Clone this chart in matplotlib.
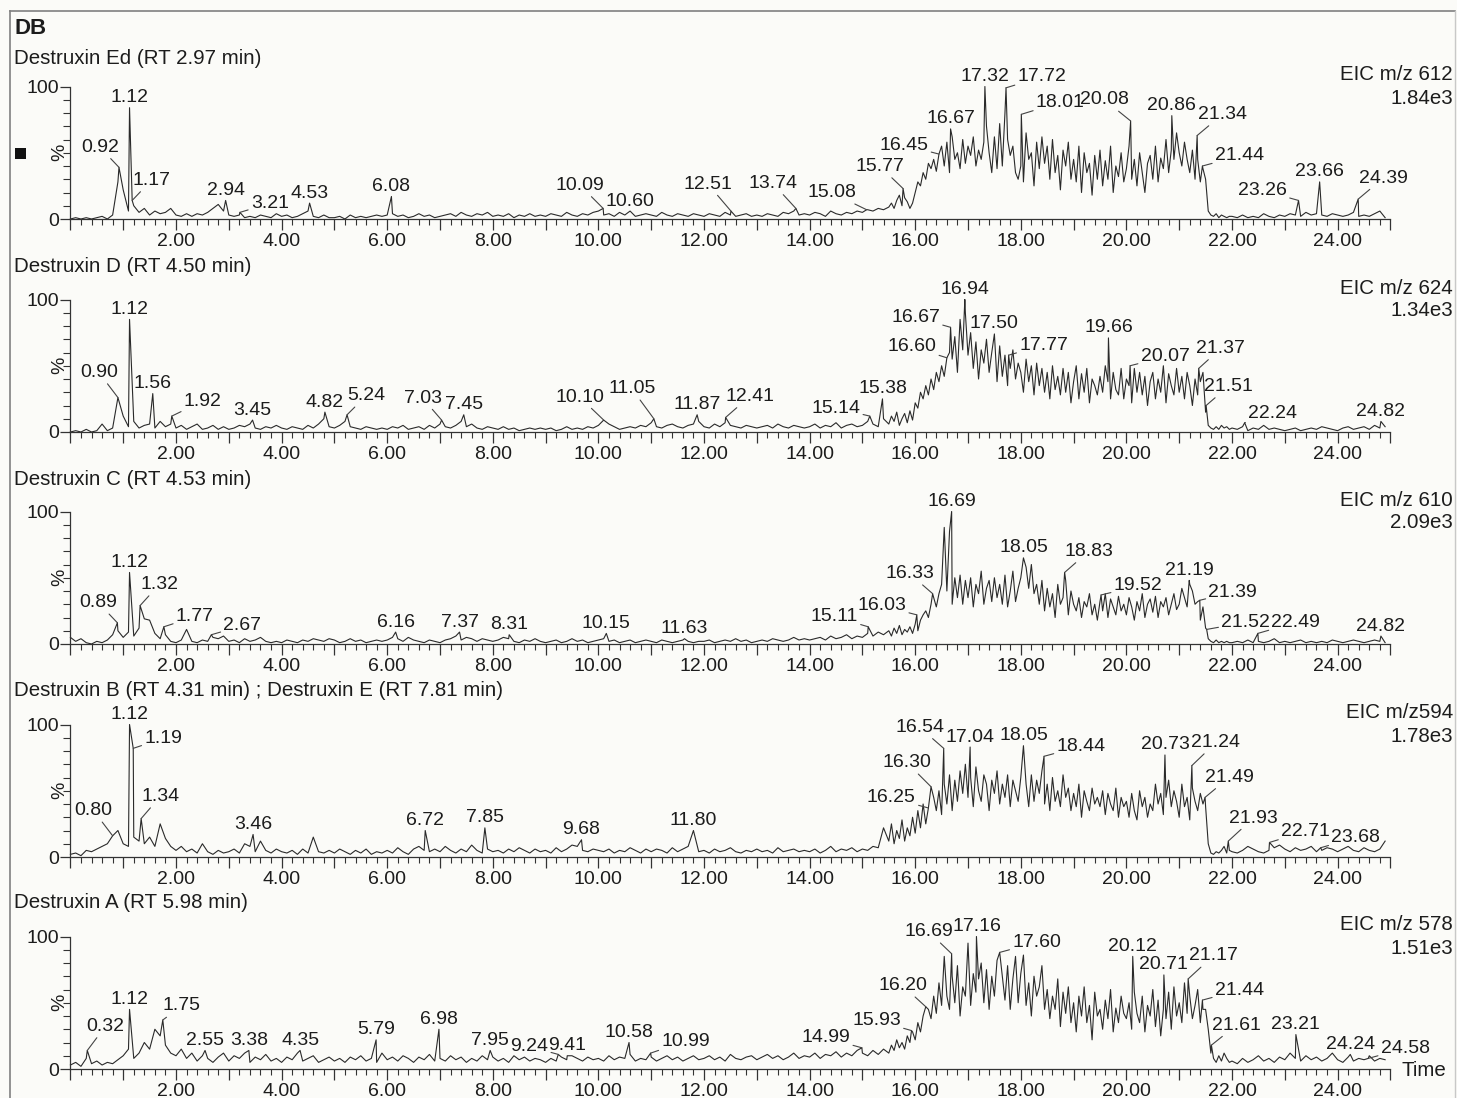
import numpy as np
import matplotlib.pyplot as plt
from matplotlib.ticker import MultipleLocator, FuncFormatter
from matplotlib.lines import Line2D
from matplotlib.patches import Rectangle

plt.rcParams['font.family'] = ['Liberation Sans', 'DejaVu Sans']

W, H = 1457, 1098
bg = '#fbfbf8'
ink = '#1c1c1c'

titles = ['Destruxin Ed (RT 2.97 min)', 'Destruxin D (RT 4.50 min)', 'Destruxin C (RT 4.53 min)',
          'Destruxin B (RT 4.31 min) ; Destruxin E (RT 7.81 min)', 'Destruxin A (RT 5.98 min)']
eic = ['EIC m/z 612', 'EIC m/z 624', 'EIC m/z 610', 'EIC m/z594', 'EIC m/z 578']
scale = ['1.84e3', '1.34e3', '2.09e3', '1.78e3', '1.51e3']

# intensities (%): base = 0.0-15.4 min every 0.1, busy = 15.50-21.95 every 0.05, tail = 22.0-24.9 every 0.1
ed_base = [0, 1, 0, 1, 0, 1, 2, 0, 3, 28, 22, 6, 10, 5, 8, 3, 6, 4, 5, 8,
           3, 2, 4, 2, 4, 3, 5, 8, 11, 6, 3, 2, 3, 1, 2, 1, 3, 2, 1, 4,
           2, 3, 1, 2, 4, 6, 2, 1, 3, 1, 1, 2, 0, 3, 1, 2, 1, 2, 3, 2,
           3, 4, 2, 3, 1, 2, 4, 2, 3, 1, 2, 3, 4, 2, 5, 3, 2, 4, 3, 5,
           2, 3, 2, 4, 1, 3, 2, 4, 2, 3, 2, 4, 3, 2, 5, 3, 2, 4, 3, 5,
           6, 3, 4, 2, 5, 3, 4, 2, 3, 4, 3, 2, 5, 3, 2, 4, 3, 2, 4, 3,
           2, 4, 3, 2, 5, 3, 2, 3, 4, 2, 3, 2, 4, 3, 2, 5, 4, 6, 3, 4,
           3, 5, 4, 2, 6, 4, 3, 5, 4, 6, 5, 7, 6, 8, 7]
ed_busy = [9, 12, 8, 14, 18, 10, 16, 13, 8, 12, 20, 28, 25, 35, 30, 42, 38, 45, 36, 44,
           55, 40, 58, 35, 62, 45, 50, 38, 60, 42, 55, 48, 62, 40, 52, 45, 58, 70, 50, 35,
           62, 38, 72, 40, 80, 60, 48, 55, 35, 30, 40, 28, 65, 45, 50, 25, 58, 38, 62, 42,
           55, 30, 60, 35, 48, 22, 52, 40, 58, 30, 45, 28, 55, 20, 50, 35, 42, 18, 48, 30,
           52, 25, 44, 30, 55, 20, 40, 32, 50, 28, 38, 55, 30, 45, 25, 50, 35, 20, 42, 48,
           30, 55, 28, 46, 38, 60, 35, 52, 45, 65, 50, 40, 58, 45, 35, 52, 30, 45, 28, 38,
           30, 6, 3, 2, 4, 1, 3, 2, 1, 2]
ed_tail = [2, 1, 3, 1, 2, 1, 4, 2, 1, 3, 2, 4, 3, 2, 5, 3, 4, 3, 2, 4, 3, 2, 3, 5, 2, 3, 2, 4, 6, 1]
ed_rt = [0.92, 1.12, 1.17, 2.94, 3.21, 4.53, 6.08, 10.09, 10.60, 12.51, 13.74, 15.08, 15.77,
         16.45, 16.67, 17.32, 17.72, 18.01, 20.08, 20.86, 21.34, 21.44, 23.26, 23.66, 24.39]
ed_h = [39, 84, 14, 14, 5, 12, 17, 8, 6, 6, 8, 7, 23, 49, 68, 100, 99, 79, 74, 78, 63, 40, 14, 28, 15]

d_base = [0, 1, 0, 2, 0, 1, 6, 1, 3, 20, 12, 4, 8, 3, 5, 6, 3, 8, 4, 6,
          3, 5, 2, 4, 6, 2, 3, 5, 2, 4, 2, 3, 5, 4, 6, 3, 2, 4, 3, 5,
          3, 2, 4, 3, 2, 5, 3, 6, 10, 4, 3, 5, 8, 4, 3, 2, 4, 3, 2, 3,
          2, 4, 3, 5, 2, 3, 4, 2, 5, 3, 6, 4, 3, 5, 8, 4, 6, 3, 2, 4,
          3, 2, 4, 2, 3, 1, 2, 3, 2, 3, 2, 3, 1, 2, 4, 2, 3, 2, 4, 3,
          5, 3, 6, 4, 2, 3, 4, 3, 5, 4, 7, 4, 3, 5, 6, 4, 3, 5, 6, 8,
          4, 3, 6, 4, 7, 5, 4, 3, 5, 4, 3, 4, 5, 3, 6, 4, 3, 5, 4, 3,
          4, 6, 3, 5, 4, 7, 3, 5, 6, 4, 5, 8, 6, 4, 10]
d_busy = [6, 12, 8, 15, 5, 10, 14, 7, 16, 9, 22, 18, 30, 25, 35, 28, 40, 32, 45, 38,
          50, 42, 48, 60, 55, 72, 45, 85, 62, 90, 58, 75, 48, 68, 40, 62, 52, 70, 45, 60,
          55, 38, 65, 42, 58, 35, 48, 62, 40, 52, 45, 30, 55, 38, 50, 28, 52, 35, 48, 30,
          45, 25, 50, 32, 42, 28, 48, 30, 45, 22, 38, 50, 25, 44, 30, 48, 22, 40, 35, 28,
          42, 30, 50, 38, 25, 45, 32, 28, 48, 25, 40, 35, 22, 48, 30, 45, 28, 42, 20, 38,
          45, 25, 40, 30, 50, 22, 44, 35, 28, 48, 30, 42, 25, 45, 35, 20, 40, 28, 38, 45,
          15, 5, 3, 2, 4, 2, 5, 3, 4, 2]
d_tail = [3, 2, 4, 1, 3, 2, 5, 2, 3, 2, 1, 2, 3, 1, 2, 3, 2, 4, 3, 2, 1, 3, 4, 2, 3, 4, 2, 5, 3, 4]
d_rt = [0.90, 1.12, 1.56, 1.92, 3.45, 4.82, 5.24, 7.03, 7.45, 10.10, 11.05, 11.87, 12.41, 15.14,
        15.38, 16.60, 16.67, 16.94, 17.50, 17.77, 19.66, 20.07, 21.37, 21.51, 22.24, 24.82]
d_h = [26, 85, 29, 12, 9, 15, 13, 9, 13, 9, 10, 13, 11, 12, 25, 56, 79, 100, 74, 58, 71, 50, 48, 20, 7, 8]

c_base = [5, 2, 4, 1, 0, 2, 1, 3, 7, 10, 5, 9, 6, 12, 19, 18, 8, 4, 7, 2,
          1, 3, 11, 2, 1, 3, 2, 5, 4, 6, 2, 3, 1, 4, 2, 3, 5, 2, 1, 2,
          1, 3, 2, 1, 3, 2, 4, 3, 2, 4, 3, 1, 2, 4, 2, 3, 1, 2, 3, 2,
          3, 5, 4, 2, 5, 3, 2, 1, 3, 2, 1, 3, 4, 6, 3, 5, 4, 2, 4, 3,
          2, 3, 5, 4, 2, 1, 3, 2, 4, 2, 1, 2, 3, 1, 2, 4, 2, 3, 1, 2,
          3, 4, 2, 3, 1, 2, 3, 1, 2, 3, 2, 1, 3, 2, 1, 2, 3, 2, 1, 2,
          2, 3, 1, 2, 3, 2, 4, 2, 3, 1, 2, 3, 2, 4, 3, 2, 3, 5, 3, 4,
          3, 4, 5, 3, 6, 4, 5, 7, 4, 6, 5, 8, 6, 9, 7]
c_busy = [10, 6, 12, 8, 14, 7, 11, 9, 13, 8, 15, 10, 18, 22, 25, 20, 30, 35, 28, 38,
          45, 88, 40, 85, 30, 50, 35, 52, 30, 48, 35, 50, 28, 45, 38, 55, 30, 42, 48, 32,
          50, 35, 45, 30, 52, 28, 40, 55, 32, 42, 50, 35, 58, 42, 60, 38, 45, 30, 48, 25,
          42, 28, 38, 20, 45, 30, 35, 48, 22, 40, 30, 25, 35, 20, 32, 28, 38, 22, 30, 18,
          32, 25, 38, 20, 34, 28, 22, 36, 25, 30, 22, 35, 28, 18, 32, 25, 38, 20, 30, 34,
          24, 36, 20, 32, 28, 35, 22, 30, 38, 26, 30, 42, 35, 28, 45, 40, 30, 32, 18, 28,
          12, 4, 2, 1, 3, 1, 2, 1, 2, 1]
c_tail = [1, 2, 1, 3, 1, 2, 1, 2, 4, 1, 2, 1, 2, 3, 1, 2, 1, 2, 1, 3, 2, 1, 2, 3, 2, 1, 2, 3, 2, 1]
c_rt = [0.89, 1.12, 1.32, 1.77, 2.67, 6.16, 7.37, 8.31, 10.15, 11.63, 15.11, 16.03, 16.33, 16.69,
        18.05, 18.83, 19.52, 21.19, 21.39, 21.52, 22.49, 24.82]
c_h = [16, 54, 29, 13, 7, 9, 9, 7, 8, 4, 13, 22, 38, 100, 65, 54, 37, 48, 33, 11, 8, 6]

b_base = [2, 3, 1, 5, 4, 6, 8, 10, 12, 20, 10, 8, 15, 12, 10, 15, 8, 25, 14, 8,
          5, 8, 4, 6, 3, 10, 4, 2, 5, 3, 4, 6, 3, 10, 8, 4, 12, 5, 3, 6,
          4, 3, 5, 2, 6, 3, 15, 4, 3, 5, 3, 6, 4, 2, 5, 3, 6, 2, 4, 3,
          5, 3, 7, 4, 2, 6, 8, 5, 4, 6, 4, 8, 5, 3, 6, 4, 9, 5, 3, 6,
          4, 5, 3, 6, 4, 7, 5, 3, 6, 4, 5, 3, 7, 4, 6, 9, 8, 5, 4, 6,
          5, 4, 6, 3, 5, 4, 7, 5, 3, 6, 4, 6, 5, 3, 7, 4, 6, 8, 5, 4,
          5, 3, 6, 4, 5, 7, 4, 3, 5, 4, 6, 4, 5, 3, 7, 4, 5, 6, 4, 5,
          4, 6, 3, 5, 8, 4, 6, 5, 7, 4, 6, 5, 8, 7, 22]
b_busy = [12, 25, 10, 20, 14, 28, 12, 22, 16, 30, 18, 35, 22, 40, 25, 38, 30, 45, 35, 50,
          32, 55, 40, 62, 35, 58, 42, 65, 48, 70, 45, 60, 38, 68, 50, 42, 62, 55, 35, 58,
          48, 65, 40, 55, 45, 62, 38, 58, 50, 42, 60, 45, 55, 38, 62, 42, 58, 48, 65, 40,
          55, 35, 60, 42, 50, 38, 62, 45, 52, 35, 48, 38, 55, 30, 50, 42, 35, 52, 40, 45,
          38, 50, 32, 48, 40, 35, 52, 30, 45, 38, 42, 30, 48, 35, 28, 50, 38, 45, 30, 40,
          35, 55, 40, 48, 32, 45, 58, 38, 50, 42, 30, 55, 38, 45, 28, 52, 42, 35, 48, 40,
          38, 10, 3, 2, 4, 3, 5, 8, 3, 5]
b_tail = [4, 3, 5, 8, 6, 4, 3, 5, 7, 9, 6, 4, 7, 5, 6, 8, 4, 5, 7, 6, 4, 6, 8, 5, 4, 7, 5, 4, 6, 12]
b_rt = [0.80, 1.12, 1.19, 1.34, 3.46, 6.72, 7.85, 9.68, 11.80, 16.25, 16.30, 16.54, 17.04, 18.05,
        18.44, 20.73, 21.24, 21.49, 21.93, 22.71, 23.68]
b_h = [16, 100, 82, 29, 17, 20, 22, 13, 20, 37, 53, 82, 83, 84, 76, 77, 69, 45, 12, 11, 7]

a_base = [3, 5, 2, 8, 4, 6, 3, 5, 4, 7, 10, 15, 8, 12, 20, 15, 30, 25, 18, 12,
          10, 15, 8, 12, 6, 10, 8, 5, 9, 12, 6, 10, 8, 12, 5, 9, 7, 11, 6, 8,
          5, 9, 7, 12, 6, 8, 10, 5, 7, 9, 6, 8, 5, 9, 7, 10, 6, 8, 5, 12,
          7, 9, 6, 10, 8, 5, 9, 7, 11, 6, 8, 6, 10, 7, 9, 5, 8, 6, 10, 7,
          9, 6, 8, 5, 10, 7, 9, 6, 8, 7, 5, 8, 6, 9, 7, 10, 8, 6, 9, 7,
          8, 6, 10, 7, 9, 8, 11, 6, 8, 7, 9, 6, 8, 10, 7, 9, 6, 8, 10, 7,
          8, 10, 7, 9, 6, 11, 8, 7, 9, 10, 7, 9, 11, 8, 10, 7, 9, 12, 8, 10,
          9, 12, 8, 11, 10, 13, 9, 12, 10, 14, 12, 10, 14, 11, 15]
a_busy = [12, 18, 14, 22, 16, 20, 15, 25, 20, 28, 22, 35, 28, 40, 32, 45, 38, 55, 42, 65,
          48, 85, 55, 45, 70, 50, 78, 40, 62, 55, 95, 48, 72, 58, 68, 80, 50, 75, 45, 70,
          55, 82, 40, 70, 52, 78, 45, 68, 85, 50, 72, 86, 48, 65, 40, 70, 55, 62, 78, 45,
          60, 38, 55, 45, 68, 32, 58, 42, 62, 35, 50, 28, 55, 40, 62, 35, 48, 22, 58, 40,
          45, 30, 52, 38, 60, 28, 46, 35, 55, 42, 38, 50, 30, 58, 42, 35, 55, 28, 48, 40,
          60, 32, 52, 25, 45, 38, 58, 30, 62, 40, 50, 35, 65, 42, 55, 38, 48, 60, 35, 45,
          45, 30, 12, 8, 5, 10, 6, 12, 8, 5]
a_tail = [6, 4, 8, 5, 7, 10, 6, 8, 5, 9, 7, 12, 8, 6, 10, 7, 9, 6, 8, 12, 7, 5, 9, 6, 8, 7, 10, 6, 8, 7]
a_rt = [0.32, 1.12, 1.75, 2.55, 3.38, 4.35, 5.79, 6.98, 7.95, 9.24, 9.41, 10.58, 10.99, 14.99,
        15.93, 16.20, 16.69, 17.16, 17.60, 20.12, 20.71, 21.17, 21.44, 21.61, 23.21, 24.24, 24.58]
a_h = [14, 45, 37, 14, 14, 14, 22, 30, 14, 11, 10, 20, 12, 16, 29, 47, 87, 100, 88, 85, 71, 68, 52, 18, 26, 11, 8]

# label offsets in pixels (dx, dy) for labels with a leader line; others sit right above the peak
offsets = [
    {'0.92': (-19, 20), '1.17': (19, 20), '3.21': (30, 9), '10.09': (-23, 23), '12.51': (-23, 27),
     '13.74': (-23, 25), '15.08': (-35, 17), '15.77': (-23, 22), '16.45': (-35, 9), '17.72': (36, 11),
     '18.01': (39, 12), '20.08': (-26, 21), '21.34': (25, 21), '21.44': (37, 10), '23.26': (-36, 10),
     '24.39': (25, 21)},
    {'0.90': (-19, 25), '1.92': (31, 15), '5.24': (19, 19), '7.03': (-19, 22), '10.10': (-24, 23),
     '11.05': (-22, 30), '12.41': (24, 21), '15.14': (-34, 8), '16.60': (-35, 11), '16.67': (-35, 10),
     '17.77': (35, 10), '20.07': (35, 9), '21.37': (22, 20), '21.51': (22, 19), '22.24': (28, 9)},
    {'0.89': (-19, 20), '1.32': (19, 21), '1.77': (31, 10), '2.67': (31, 9), '15.11': (-34, 10),
     '16.03': (-35, 9), '16.33': (-23, 20), '18.83': (24, 21), '19.52': (37, 9), '21.39': (33, 8),
     '21.52': (39, 7), '22.49': (38, 11)},
    {'0.80': (-19, 25), '1.19': (30, 10), '1.34': (19, 22), '16.25': (-37, 10), '16.30': (-24, 24),
     '16.54': (-24, 21), '18.44': (37, 10), '21.24': (24, 23), '21.49': (24, 20), '21.93': (25, 23),
     '22.71': (36, 11), '23.68': (35, 10)},
    {'0.32': (18, 24), '1.75': (19, 14), '9.24': (-29, 8), '10.99': (35, 12), '14.99': (-36, 10),
     '15.93': (-35, 10), '16.20': (-23, 21), '16.69': (-23, 22), '17.60': (37, 10), '21.17': (25, 23),
     '21.44': (37, 10), '21.61': (25, 20), '24.58': (37, 10)},
]

panels = [(ed_base, ed_busy, ed_tail, ed_rt, ed_h), (d_base, d_busy, d_tail, d_rt, d_h),
          (c_base, c_busy, c_tail, c_rt, c_h), (b_base, b_busy, b_tail, b_rt, b_h),
          (a_base, a_busy, a_tail, a_rt, a_h)]


def build_trace(base, busy, tail, rts, hs):
    t = np.concatenate([np.arange(len(base)) * 0.1,
                        15.5 + np.arange(len(busy)) * 0.05,
                        22.0 + np.arange(len(tail)) * 0.1])
    v = np.concatenate([base, busy, tail]).astype(float)
    rts = np.array(rts)
    keep = np.min(np.abs(t[:, None] - rts[None, :]), axis=1) > 0.005
    t = np.concatenate([t[keep], rts])
    v = np.concatenate([v[keep], hs])
    o = np.argsort(t)
    return t[o], v[o]


fig = plt.figure(figsize=(W / 100, H / 100), dpi=100, facecolor=bg)

# frame
fig.add_artist(Line2D([10 / W, 10 / W], [0, 1 - 11 / H], color='#808080', lw=1.2))
fig.add_artist(Line2D([10 / W, 1455 / W], [1 - 11 / H, 1 - 11 / H], color='#808080', lw=1.2))
fig.add_artist(Line2D([1455 / W, 1455 / W], [0, 1 - 11 / H], color='#c8c8c8', lw=1))

fig.text(14 / W, 1 - 28 / H, 'DB', fontsize=16, fontweight='bold', va='center', ha='left', color=ink)
fig.add_artist(Rectangle((15 / W, 1 - 159 / H), 11 / W, 11 / H, transform=fig.transFigure,
                         facecolor='#111111', edgecolor='none'))

x0 = 70.4
pxmin = 52.8
zero_y = [219, 432, 644, 857, 1069]
title_y = [59, 267, 479, 691, 903]
fs = 14

fmt = FuncFormatter(lambda x, p: f'{x:.2f}' if x > 0.5 and round(x) % 2 == 0 else '')

for i, (base, busy, tail, rts, hs) in enumerate(panels):
    y0 = zero_y[i]
    ax = fig.add_axes([x0 / W, 1 - y0 / H, 25 * pxmin / W, 132.5 / H])
    ax.set_facecolor('none')
    t, v = build_trace(base, busy, tail, rts, hs)
    ax.plot(t, v, color='#2a2a2a', lw=0.8, clip_on=False)
    ax.set_xlim(0, 25)
    ax.set_ylim(0, 100)
    for s in ['top', 'right']:
        ax.spines[s].set_visible(False)
    for s in ['left', 'bottom']:
        ax.spines[s].set_color('#333333')
        ax.spines[s].set_linewidth(0.9)
    ax.xaxis.set_major_locator(MultipleLocator(1))
    ax.xaxis.set_minor_locator(MultipleLocator(0.2))
    ax.xaxis.set_major_formatter(fmt)
    ax.set_yticks([0, 100])
    ax.yaxis.set_minor_locator(MultipleLocator(10))
    ax.tick_params(axis='x', which='major', length=8, width=0.9, color='#333333', pad=2,
                   labelsize=fs, labelcolor=ink)
    ax.tick_params(axis='x', which='minor', length=4, width=0.8, color='#333333')
    ax.tick_params(axis='y', which='major', length=7, width=0.9, color='#333333', pad=1,
                   labelsize=fs, labelcolor=ink)
    ax.tick_params(axis='y', which='minor', length=5, width=0.8, color='#333333')
    ax.text(-0.008, 0.5, '%', rotation=90, transform=ax.transAxes, ha='center', va='center',
            fontsize=fs, color=ink)

    offs = offsets[i]
    for rt, h in zip(rts, hs):
        lab = f'{rt:.2f}'
        dx, dy = offs.get(lab, (0, 10))
        arrow = dict(arrowstyle='-', color='#444444', lw=0.8, shrinkA=0, shrinkB=0) if dx else None
        ax.annotate(lab, xy=(rt, h), xytext=(dx, dy), textcoords='offset pixels',
                    ha='center', va='center', fontsize=fs, color=ink,
                    annotation_clip=False, arrowprops=arrow)

    fig.text(14 / W, 1 - title_y[i] / H, titles[i], fontsize=14.8, va='center', ha='left', color=ink)
    fig.text(1453 / W, 1 - (y0 - 144) / H, eic[i], fontsize=14.8, va='center', ha='right', color=ink)
    fig.text(1453 / W, 1 - (y0 - 121) / H, scale[i], fontsize=14.8, va='center', ha='right', color=ink)

fig.text(1424 / W, 1 - 1070 / H, 'Time', fontsize=14.8, va='center', ha='center', color=ink)

fig.savefig('out.png', dpi=100, facecolor=bg)
